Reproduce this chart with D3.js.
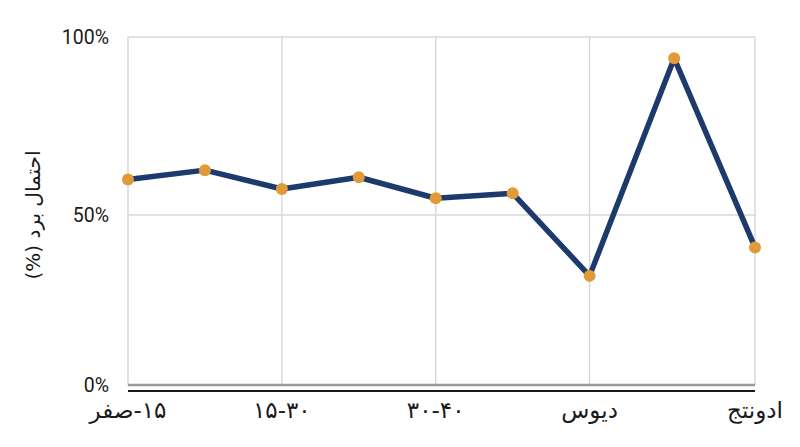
<!DOCTYPE html>
<html><head><meta charset="utf-8">
<script src="https://cdn.jsdelivr.net/npm/d3@7"></script>
<style>html,body{margin:0;padding:0;background:#fff;}svg{display:block;}</style>
</head><body>
<svg id="chart" width="800" height="447"></svg>
<script>
// Data
const stepLabels = ["صفر\u200E-۱۵", "", "۱۵-۳۰", "", "۳۰-۴۰", "", "دیوس", "", "ادونتج"];
const stepPos = [0, 1, 2, 3, 4, 5, 6, 7.1, 8.15];
const winProb = [60.0, 62.6, 57.3, 60.6, 54.7, 56.1, 32.9, 94.0, 40.9];
const yTicks = [0, 50, 100];
const yTitle = "احتمال برد (%)";

const svg = d3.select("#chart");
const x = d3.scaleLinear().domain([0, d3.max(stepPos)]).range([128, 755]);
const y = d3.scaleLinear().domain([0, 100]).range([393, 37]);
const plotBottom = y(0) - 8;

const data = winProb.map((v, i) => ({ x: stepPos[i], v, label: stepLabels[i] }));
const labeled = data.filter(d => d.label !== "");

// horizontal gridlines
svg.append("g").selectAll("line").data(yTicks.filter(t => t > 0)).join("line")
  .attr("x1", x.range()[0]).attr("x2", x.range()[1])
  .attr("y1", d => y(d)).attr("y2", d => y(d))
  .attr("stroke", "#d9d9d9").attr("stroke-width", 1.5);

// vertical gridlines
svg.append("g").selectAll("line").data(labeled).join("line")
  .attr("x1", d => x(d.x)).attr("x2", d => x(d.x))
  .attr("y1", y(100)).attr("y2", plotBottom)
  .attr("stroke", "#d9d9d9").attr("stroke-width", 1.5);

// zero baseline (gray) and axis line (black)
svg.append("line").attr("x1", x.range()[0]).attr("x2", x.range()[1])
  .attr("y1", plotBottom).attr("y2", plotBottom)
  .attr("stroke", "#9a9a9a").attr("stroke-width", 2.5);
svg.append("line").attr("x1", x.range()[0]).attr("x2", x.range()[1])
  .attr("y1", y(0) - 2).attr("y2", y(0) - 2)
  .attr("stroke", "#1a1a1a").attr("stroke-width", 2);

// y tick labels
svg.append("g").selectAll("text").data(yTicks).join("text")
  .attr("x", 109)
  .attr("y", d => d === 0 ? plotBottom : y(d))
  .attr("dy", "0.35em")
  .attr("text-anchor", "end")
  .attr("font-family", "Roboto, 'Noto Sans', sans-serif")
  .attr("font-size", 19.5)
  .attr("fill", "#1a1a1a")
  .text(d => d + "%");

// x labels
svg.append("g").selectAll("text").data(labeled).join("text")
  .attr("x", d => x(d.x))
  .attr("y", 410)
  .attr("dy", "0.35em")
  .attr("text-anchor", "middle")
  .attr("font-family", "'DejaVu Sans', sans-serif")
  .attr("font-size", 23)
  .attr("fill", "#1a1a1a")
  .text(d => d.label);

// y title
svg.append("text")
  .attr("transform", `translate(33,${y(50)}) rotate(-90)`)
  .attr("dy", "0.35em")
  .attr("text-anchor", "middle")
  .attr("direction", "rtl")
  .attr("font-family", "'DejaVu Sans', sans-serif")
  .attr("font-size", 20)
  .attr("fill", "#1a1a1a")
  .text(yTitle);

// line
const line = d3.line().x(d => x(d.x)).y(d => y(d.v));
svg.append("path").datum(data)
  .attr("d", line)
  .attr("fill", "none")
  .attr("stroke", "#1d3a6c")
  .attr("stroke-width", 5.5)
  .attr("stroke-linejoin", "round");

// points
svg.append("g").selectAll("circle").data(data).join("circle")
  .attr("cx", d => x(d.x)).attr("cy", d => y(d.v))
  .attr("r", 6)
  .attr("fill", "#e09b38");
</script>
</body></html>
